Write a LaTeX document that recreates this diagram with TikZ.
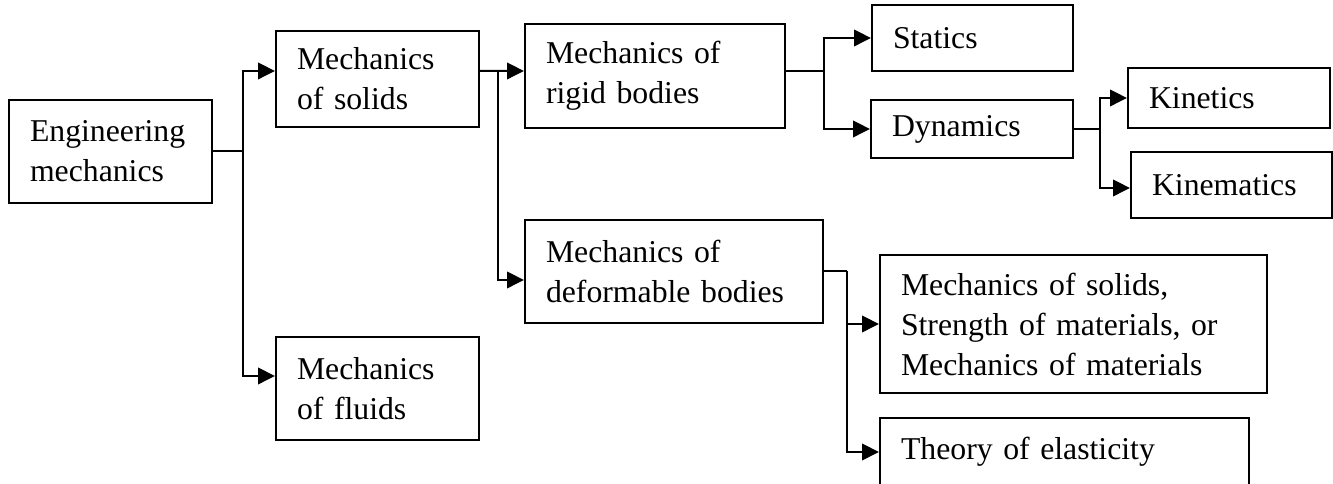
\documentclass[tikz,border=0pt]{standalone}
\usepackage{fontspec}
\setmainfont{Liberation Serif}
\usetikzlibrary{arrows.meta}

\tikzset{
  box/.style 2 args={draw, line width=0.8pt, align=left, inner xsep=8.4pt, inner ysep=2pt,
    text width=#1, minimum height=#2, font=\fontsize{12.7pt}{16pt}\selectfont},
  arr/.style={line width=0.8pt, -{Triangle[length=6.8pt,width=6.6pt]}},
  link/.style={line width=0.8pt}
}

\begin{document}
\begin{tikzpicture}[x=0.4pt, y=-0.4pt]
\useasboundingbox (0,0) rectangle (1333,484);

% Boxes
\node[box={64.4pt}{41.2pt}] (eng) at (110.5,151.5) {Engineering\\mechanics};
\node[box={64.4pt}{38.4pt}] (solids) at (377.5,79) {Mechanics\\of solids};
\node[box={64.4pt}{41.2pt}] (fluids) at (377.5,388.5) {Mechanics\\of fluids};
\node[box={87.2pt}{41.6pt}] (rigid) at (655,76) {Mechanics of\\rigid bodies};
\node[box={102.4pt}{41.2pt}] (deform) at (674,271.5) {Mechanics of\\deformable bodies};
\node[box={63.6pt}{26.4pt}] (statics) at (972.5,38) {Statics};
\node[box={64pt}{23.2pt}] (dynamics) at (972,129) {Dynamics};
\node[box={64pt}{24pt}] (kinetics) at (1229,98) {Kinetics};
\node[box={63.6pt}{26.4pt}] (kinematics) at (1231.5,185) {Kinematics};
\node[box={138pt}{55.2pt}] (strength) at (1073.5,324) {Mechanics of solids,\\Strength of materials, or\\Mechanics of materials};
\node[box={130.8pt}{40pt}] (elastic) at (1064.5,468) {Theory of elasticity\\\mbox{}};

% Junctions
\path (eng.east) ++(30,0) coordinate (j1);
\path ([yshift=3.2pt]solids.east) ++(18,0) coordinate (j2);
\path ([yshift=2pt]rigid.east) ++(38,0) coordinate (j3);
\path (dynamics.east) ++(26,0) coordinate (j4);
\path (deform.east) ++(23,0) coordinate (j5);

% Connectors
\draw[link] (eng.east) -- (j1);
\draw[arr] (j1) |- ([yshift=3.2pt]solids.west);
\draw[arr] (j1) |- ([yshift=5pt]fluids.west);

\draw[arr] ([yshift=3.2pt]solids.east) -- ([yshift=2pt]rigid.west);
\draw[arr] (j2) |- ([yshift=-3.4pt]deform.west);

\draw[link] ([yshift=2pt]rigid.east) -- (j3);
\draw[arr] (j3) |- (statics.west);
\draw[arr] (j3) |- (dynamics.west);

\draw[link] (dynamics.east) -- (j4);
\draw[arr] (j4) |- (kinetics.west);
\draw[arr] (j4) |- ([yshift=-1.2pt]kinematics.west);

\draw[link] (deform.east) -- (j5);
\draw[arr] (j5) |- (strength.west);
\draw[arr] (j5) |- ([yshift=6.4pt]elastic.west);
\end{tikzpicture}
\end{document}
